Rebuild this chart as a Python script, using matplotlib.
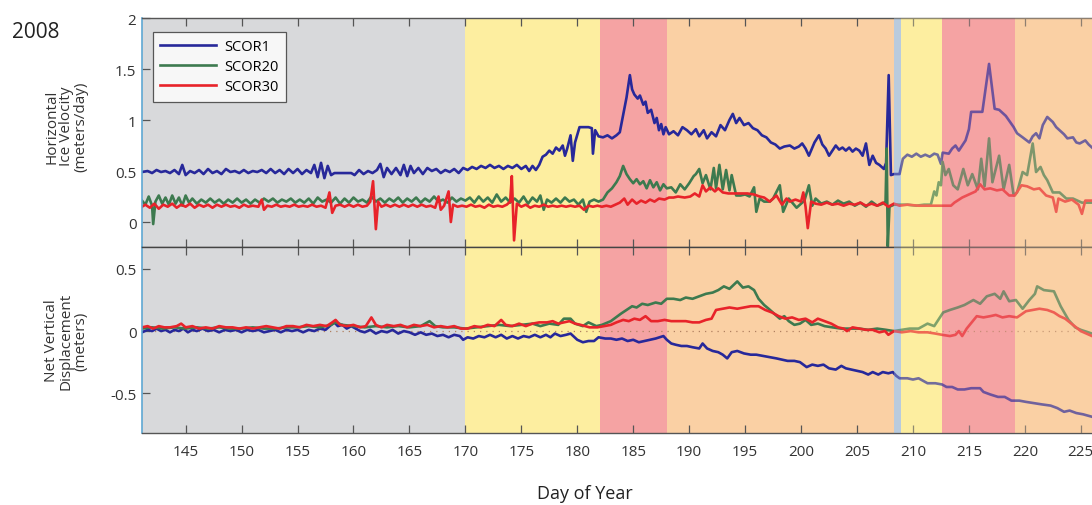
import matplotlib
matplotlib.use("Agg")
import matplotlib.pyplot as plt

plt.rcParams["font.family"] = ["Open Sans", "DejaVu Sans"]
plt.rcParams["axes.unicode_minus"] = False

# melt-season phases shading both panels (day of year edges)
band_edges = [141.1, 170.0, 182.0, 188.0, 208.3, 208.9, 212.6, 219.1, 226.0]
band_colors = ["#d8d9db", "#fdeea0", "#f5a3a3", "#fad0a4", "#b9cbdd",
               "#fdeea0", "#f5a3a3", "#fad0a4"]
overlay_from = 4  # later phases are washed over the traces

stations = ["SCOR1", "SCOR20", "SCOR30"]
station_colors = ["#27289a", "#3d7a4f", "#e8232a"]

# horizontal ice velocity (m/day)
scor1_vel_day = [
    141.1, 141.6, 142.0, 142.4, 142.8, 143.2, 143.6, 144.0, 144.4, 144.7, 145.0, 145.4, 145.8,
    146.2, 146.6, 147.0, 147.4, 147.8, 148.2, 148.6, 149.0, 149.4, 149.8, 150.2, 150.6, 151.0,
    151.4, 151.8, 152.2, 152.6, 153.0, 153.4, 153.8, 154.2, 154.6, 155.0, 155.4, 155.8, 156.2,
    156.5, 156.8, 157.1, 157.4, 157.7, 158.0, 158.3, 159.0, 159.8, 160.1, 160.5, 160.9, 161.3,
    161.7, 162.1, 162.4, 162.7, 163.0, 163.4, 163.8, 164.2, 164.5, 164.8, 165.1, 165.4, 165.8,
    166.2, 166.6, 167.0, 167.4, 167.8, 168.2, 168.6, 169.0, 169.4, 169.8, 170.2, 170.6, 171.0,
    171.4, 171.8, 172.2, 172.6, 173.0, 173.4, 173.8, 174.2, 174.6, 175.0, 175.4, 175.7, 176.0,
    176.3, 176.6, 176.9, 177.2, 177.5, 177.8, 178.1, 178.4, 178.7, 178.9, 179.1, 179.4, 179.6,
    179.8, 180.2, 180.6, 181.0, 181.3, 181.4, 181.6, 181.9, 182.3, 182.7, 183.1, 183.5, 183.8,
    184.1, 184.4, 184.7, 184.9, 185.1, 185.4, 185.6, 185.9, 186.1, 186.3, 186.6, 186.9, 187.1,
    187.3, 187.5, 187.7, 187.9, 188.2, 188.6, 189.0, 189.4, 189.8, 190.2, 190.6, 190.9, 191.3,
    191.6, 192.0, 192.4, 192.8, 193.2, 193.6, 193.9, 194.2, 194.5, 194.9, 195.3, 195.7, 196.1,
    196.5, 196.9, 197.3, 197.7, 198.1, 198.5, 199.0, 199.4, 199.8, 200.1, 200.4, 200.7, 201.2,
    201.6, 201.9, 202.2, 202.5, 203.1, 203.4, 203.7, 204.0, 204.3, 204.6, 204.9, 205.2, 205.5,
    205.8, 206.1, 206.4, 206.7, 207.0, 207.4, 207.6, 207.83, 208.03, 208.3, 208.8, 209.1, 209.5,
    209.9, 210.3, 210.7, 211.1, 211.5, 211.9, 212.2, 212.5, 212.65, 213.2, 213.5, 213.8, 214.1,
    214.4, 214.7, 215.0, 215.2, 216.2, 216.8, 217.3, 217.7, 218.3, 219.0, 219.3, 219.8, 220.4,
    220.7, 221.0, 221.3, 221.6, 222.0, 222.5, 222.8, 223.1, 223.5, 223.8, 224.3, 224.6, 224.9,
    225.4, 225.7, 226.0,
]
scor1_vel = [
    0.49, 0.50, 0.48, 0.51, 0.49, 0.50, 0.48, 0.51, 0.47, 0.56, 0.46, 0.50, 0.48,
    0.51, 0.47, 0.52, 0.48, 0.50, 0.47, 0.52, 0.49, 0.50, 0.48, 0.51, 0.48, 0.50,
    0.49, 0.51, 0.48, 0.52, 0.48, 0.51, 0.47, 0.52, 0.48, 0.52, 0.47, 0.51, 0.48,
    0.56, 0.44, 0.58, 0.43, 0.55, 0.46, 0.48, 0.48, 0.48, 0.46, 0.51, 0.47, 0.50,
    0.48, 0.51, 0.57, 0.44, 0.53, 0.47, 0.53, 0.46, 0.56, 0.45, 0.55, 0.48, 0.53,
    0.47, 0.53, 0.50, 0.52, 0.48, 0.51, 0.49, 0.52, 0.48, 0.53, 0.51, 0.54, 0.52,
    0.55, 0.53, 0.56, 0.53, 0.55, 0.52, 0.55, 0.53, 0.56, 0.52, 0.55, 0.50, 0.55,
    0.51, 0.56, 0.64, 0.66, 0.70, 0.67, 0.73, 0.70, 0.75, 0.65, 0.72, 0.85, 0.60,
    0.78, 0.93, 0.93, 0.93, 0.92, 0.67, 0.90, 0.84, 0.83, 0.85, 0.82, 0.85, 0.88,
    1.05, 1.22, 1.44, 1.30, 1.25, 1.21, 1.24, 1.15, 1.18, 1.07, 1.10, 0.97, 1.02,
    0.90, 0.96, 0.86, 0.93, 0.86, 0.89, 0.85, 0.93, 0.90, 0.86, 0.91, 0.84, 0.90,
    0.82, 0.88, 0.84, 0.95, 0.90, 1.00, 1.06, 0.97, 1.02, 0.95, 0.97, 0.92, 0.90,
    0.85, 0.83, 0.78, 0.76, 0.72, 0.74, 0.75, 0.72, 0.74, 0.77, 0.72, 0.65, 0.78,
    0.85, 0.76, 0.72, 0.65, 0.75, 0.71, 0.73, 0.70, 0.73, 0.69, 0.72, 0.70, 0.65,
    0.77, 0.56, 0.65, 0.58, 0.56, 0.52, 0.58, 1.44, 0.46, 0.47, 0.47, 0.62, 0.66,
    0.64, 0.67, 0.64, 0.66, 0.64, 0.67, 0.66, 0.57, 0.68, 0.67, 0.72, 0.75, 0.70,
    0.75, 0.80, 0.91, 1.08, 1.08, 1.55, 1.11, 1.10, 1.04, 0.93, 0.87, 0.83, 0.78,
    0.84, 0.87, 0.82, 0.95, 1.03, 0.98, 0.93, 0.90, 0.86, 0.82, 0.83, 0.78, 0.77,
    0.80, 0.76, 0.73,
]

scor20_vel_day = [
    141.1, 141.4, 141.7, 142.0, 142.1, 142.3, 142.6, 142.9, 143.2, 143.5, 143.8, 144.1, 144.4,
    144.7, 145.0, 145.3, 145.6, 146.0, 146.4, 146.8, 147.2, 147.6, 148.0, 148.4, 148.8, 149.2,
    149.6, 150.0, 150.4, 150.8, 151.2, 151.6, 152.0, 152.4, 152.8, 153.2, 153.6, 154.0, 154.4,
    154.8, 155.2, 155.6, 156.0, 156.4, 156.8, 157.2, 157.6, 158.0, 158.4, 158.8, 159.2, 159.6,
    160.0, 160.4, 160.8, 161.2, 161.6, 162.0, 162.4, 162.8, 163.2, 163.6, 164.0, 164.4, 164.8,
    165.2, 165.6, 166.0, 166.4, 166.8, 167.2, 167.6, 168.0, 168.4, 168.8, 169.2, 169.6, 170.0,
    170.4, 170.8, 171.2, 171.6, 172.0, 172.4, 172.8, 173.2, 173.6, 174.0, 174.4, 174.8, 175.2,
    175.6, 176.0, 176.4, 176.7, 177.0, 177.3, 177.7, 178.1, 178.5, 178.9, 179.3, 179.7, 180.1,
    180.5, 180.8, 181.1, 181.5, 181.9, 182.3, 182.7, 183.1, 183.5, 183.8, 184.1, 184.4, 184.7,
    185.0, 185.3, 185.6, 185.9, 186.2, 186.5, 186.8, 187.1, 187.4, 187.7, 188.0, 188.4, 188.8,
    189.2, 189.6, 190.0, 190.4, 190.6, 190.9, 191.2, 191.5, 191.9, 192.2, 192.4, 192.7, 193.0,
    193.3, 193.6, 193.8, 194.2, 194.6, 195.0, 195.4, 195.8, 196.0, 196.3, 196.7, 197.2, 197.5,
    198.1, 198.4, 198.9, 199.6, 200.3, 200.7, 201.0, 201.3, 201.8, 202.3, 202.8, 203.3, 203.8,
    204.3, 204.8, 205.3, 205.8, 206.3, 206.8, 207.3, 207.55, 207.65, 207.75, 207.9, 208.3, 208.8,
    209.5, 210.3, 211.0, 211.6, 211.9, 212.1, 212.3, 212.5, 212.65, 212.9, 213.2, 213.6, 214.0,
    214.5, 214.9, 215.3, 215.8, 216.1, 216.4, 216.8, 217.1, 217.7, 218.1, 218.6, 219.0, 219.3,
    219.8, 220.2, 220.7, 221.0, 221.4, 221.7, 222.0, 222.5, 223.1, 223.7, 224.3, 225.1, 226.0,
]
scor20_vel = [
    0.21, 0.17, 0.25, 0.16, -0.02, 0.20, 0.26, 0.18, 0.24, 0.17, 0.26, 0.18, 0.24,
    0.16, 0.26, 0.19, 0.23, 0.18, 0.22, 0.19, 0.23, 0.19, 0.22, 0.18, 0.22, 0.19,
    0.23, 0.19, 0.22, 0.18, 0.22, 0.19, 0.23, 0.20, 0.23, 0.19, 0.22, 0.20, 0.23,
    0.19, 0.22, 0.19, 0.23, 0.18, 0.24, 0.20, 0.22, 0.19, 0.24, 0.18, 0.23, 0.19,
    0.24, 0.20, 0.22, 0.19, 0.25, 0.20, 0.23, 0.19, 0.23, 0.20, 0.24, 0.19, 0.23,
    0.20, 0.24, 0.19, 0.23, 0.20, 0.25, 0.20, 0.22, 0.19, 0.24, 0.20, 0.23, 0.21,
    0.24, 0.19, 0.25, 0.20, 0.24, 0.19, 0.27, 0.20, 0.24, 0.19, 0.23, 0.19, 0.25,
    0.18, 0.24, 0.20, 0.26, 0.12, 0.22, 0.19, 0.23, 0.19, 0.24, 0.20, 0.22, 0.17,
    0.22, 0.10, 0.20, 0.22, 0.20, 0.22, 0.29, 0.33, 0.39, 0.45, 0.55, 0.47, 0.42,
    0.38, 0.42, 0.37, 0.40, 0.33, 0.41, 0.34, 0.39, 0.31, 0.37, 0.33, 0.34, 0.29,
    0.37, 0.32, 0.38, 0.45, 0.47, 0.52, 0.38, 0.46, 0.32, 0.53, 0.33, 0.56, 0.32,
    0.51, 0.31, 0.46, 0.26, 0.26, 0.27, 0.25, 0.34, 0.10, 0.23, 0.20, 0.20, 0.23,
    0.36, 0.10, 0.23, 0.14, 0.21, 0.36, 0.16, 0.23, 0.18, 0.20, 0.17, 0.21, 0.18,
    0.20, 0.16, 0.19, 0.15, 0.20, 0.16, 0.18, 0.20, 0.72, -0.24, 0.15, 0.17, 0.17,
    0.17, 0.16, 0.17, 0.17, 0.30, 0.26, 0.39, 0.36, 0.59, 0.46, 0.52, 0.36, 0.32,
    0.52, 0.36, 0.47, 0.32, 0.62, 0.35, 0.82, 0.39, 0.65, 0.32, 0.56, 0.26, 0.29,
    0.49, 0.46, 0.77, 0.49, 0.54, 0.46, 0.41, 0.29, 0.29, 0.23, 0.23, 0.19, 0.19,
]

scor30_vel_day = [
    141.1, 141.4, 141.8, 142.2, 142.6, 143.0, 143.4, 143.8, 144.2, 144.6, 145.0, 145.4, 145.8,
    146.2, 146.6, 147.0, 147.4, 147.8, 148.2, 148.6, 149.0, 149.4, 149.8, 150.2, 150.6, 151.0,
    151.5, 151.8, 152.0, 152.3, 152.7, 153.1, 153.5, 153.9, 154.3, 154.7, 155.1, 155.5, 155.9,
    156.3, 156.7, 157.1, 157.5, 157.85, 158.1, 158.4, 158.8, 159.2, 159.6, 160.0, 160.4, 160.8,
    161.2, 161.5, 161.75, 162.0, 162.2, 162.5, 162.9, 163.3, 163.7, 164.1, 164.5, 164.9, 165.3,
    165.7, 166.1, 166.5, 166.9, 167.3, 167.6, 167.8, 168.1, 168.5, 168.7, 168.9, 169.3, 169.7,
    170.1, 170.5, 170.9, 171.3, 171.7, 172.1, 172.5, 172.9, 173.3, 173.7, 174.0, 174.15, 174.35,
    174.6, 175.0, 175.4, 175.8, 176.2, 176.6, 177.0, 177.4, 177.8, 178.2, 178.6, 179.0, 179.4,
    179.8, 180.2, 180.6, 181.0, 181.4, 181.8, 182.2, 182.6, 183.0, 183.4, 183.8, 184.2, 184.5,
    184.9, 185.3, 185.7, 186.1, 186.5, 186.9, 187.3, 187.8, 188.2, 188.6, 189.0, 189.6, 190.1,
    190.5, 190.9, 191.2, 191.5, 191.9, 192.3, 192.6, 193.0, 193.5, 194.0, 194.6, 195.2, 195.8,
    196.3, 196.7, 197.2, 197.8, 198.3, 198.7, 199.0, 199.5, 200.0, 200.2, 200.4, 200.6, 200.9,
    201.3, 201.8, 202.3, 202.8, 203.3, 203.8, 204.3, 204.8, 205.3, 205.8, 206.3, 206.8, 207.3,
    207.8, 208.3, 208.8, 209.5, 210.5, 211.5, 212.5, 213.4, 213.7, 214.4, 215.0, 215.6, 216.0,
    216.4, 216.9, 217.5, 218.0, 218.6, 219.1, 219.7, 220.2, 220.8, 221.3, 221.9, 222.5, 222.8,
    223.0, 223.6, 224.2, 224.8, 225.1, 225.4, 226.0,
]
scor30_vel = [
    0.15, 0.17, 0.14, 0.18, 0.13, 0.17, 0.15, 0.18, 0.14, 0.17, 0.15, 0.18, 0.14,
    0.17, 0.15, 0.17, 0.14, 0.17, 0.15, 0.17, 0.15, 0.16, 0.14, 0.17, 0.15, 0.16,
    0.15, 0.22, 0.12, 0.16, 0.15, 0.17, 0.15, 0.16, 0.15, 0.17, 0.15, 0.16, 0.15,
    0.17, 0.15, 0.16, 0.14, 0.29, 0.09, 0.16, 0.17, 0.15, 0.17, 0.15, 0.17, 0.15,
    0.16, 0.20, 0.40, -0.07, 0.20, 0.15, 0.17, 0.15, 0.17, 0.15, 0.17, 0.15, 0.17,
    0.15, 0.17, 0.15, 0.16, 0.14, 0.25, 0.12, 0.16, 0.30, 0.00, 0.17, 0.15, 0.16,
    0.15, 0.17, 0.15, 0.16, 0.14, 0.17, 0.15, 0.16, 0.15, 0.17, 0.20, 0.45, -0.18,
    0.18, 0.15, 0.17, 0.14, 0.16, 0.15, 0.17, 0.15, 0.16, 0.15, 0.16, 0.15, 0.16,
    0.15, 0.16, 0.12, 0.16, 0.15, 0.16, 0.15, 0.16, 0.15, 0.17, 0.19, 0.23, 0.17,
    0.22, 0.18, 0.21, 0.19, 0.22, 0.20, 0.23, 0.22, 0.24, 0.24, 0.25, 0.24, 0.25,
    0.28, 0.25, 0.36, 0.30, 0.34, 0.30, 0.33, 0.29, 0.28, 0.28, 0.28, 0.28, 0.27,
    0.25, 0.24, 0.20, 0.26, 0.17, 0.23, 0.20, 0.22, 0.20, 0.29, 0.15, -0.06, 0.20,
    0.18, 0.17, 0.19, 0.17, 0.18, 0.16, 0.18, 0.17, 0.19, 0.16, 0.18, 0.16, 0.19,
    0.15, 0.18, 0.16, 0.17, 0.16, 0.16, 0.16, 0.16, 0.19, 0.24, 0.27, 0.30, 0.37,
    0.32, 0.33, 0.31, 0.32, 0.26, 0.26, 0.36, 0.35, 0.32, 0.33, 0.26, 0.24, 0.10,
    0.23, 0.20, 0.22, 0.17, 0.08, 0.21, 0.21,
]

# net vertical displacement (m)
scor1_disp_day = [
    141.1, 141.6, 142.0, 142.4, 142.8, 143.2, 143.6, 144.0, 144.4, 144.8, 145.2, 145.6, 146.0,
    146.5, 147.0, 147.5, 148.0, 148.5, 149.0, 149.5, 150.0, 150.5, 151.0, 151.5, 152.0, 152.5,
    153.0, 153.5, 154.0, 154.5, 155.0, 155.5, 156.0, 156.5, 157.0, 157.5, 158.0, 158.3, 158.6,
    159.0, 159.4, 159.8, 160.2, 160.6, 161.0, 161.5, 162.0, 162.5, 163.0, 163.5, 164.0, 164.5,
    165.0, 165.5, 166.0, 166.5, 167.0, 167.5, 168.0, 168.5, 169.0, 169.5, 169.8, 170.2, 170.7,
    171.2, 171.7, 172.2, 172.7, 173.2, 173.7, 174.2, 174.7, 175.2, 175.7, 176.2, 176.7, 177.2,
    177.6, 178.0, 178.5, 179.0, 179.4, 180.0, 180.5, 181.0, 181.5, 181.9, 182.5, 183.0, 183.5,
    184.0, 184.5, 185.0, 185.5, 186.0, 186.5, 187.0, 187.7, 188.0, 188.4, 188.8, 189.3, 189.8,
    190.3, 190.9, 191.2, 191.6, 192.1, 192.6, 193.0, 193.4, 193.8, 194.3, 194.9, 195.5, 196.0,
    196.6, 197.2, 197.8, 198.3, 198.8, 199.4, 199.9, 200.5, 201.0, 201.5, 202.0, 202.5, 203.1,
    203.6, 204.0, 204.5, 205.0, 205.5, 206.0, 206.4, 206.9, 207.3, 207.8, 208.2, 208.5, 208.8,
    209.5, 210.0, 210.5, 211.3, 212.0, 212.6, 213.0, 213.5, 214.0, 214.6, 215.2, 216.0, 216.3,
    216.9, 217.6, 218.2, 218.8, 219.5, 220.1, 220.8, 221.5, 222.3, 222.9, 223.5, 224.0, 224.6,
    225.2, 226.0,
]
scor1_disp = [
    -0.01, 0.01, 0.00, 0.02, 0.00, 0.01, -0.01, 0.01, 0.00, 0.02, -0.01, 0.01, 0.00,
    0.02, 0.00, 0.01, -0.01, 0.01, 0.00, 0.01, -0.01, 0.01, 0.00, 0.01, -0.01, 0.00,
    0.01, -0.01, 0.01, 0.00, 0.01, -0.01, 0.01, 0.00, 0.02, 0.01, 0.05, 0.07, 0.04,
    0.05, 0.02, 0.04, 0.02, 0.00, -0.01, 0.01, -0.02, 0.00, -0.01, 0.01, -0.02, 0.00,
    -0.01, -0.03, -0.01, -0.03, -0.02, -0.04, -0.03, -0.05, -0.03, -0.04, -0.07, -0.05, -0.06,
    -0.04, -0.05, -0.03, -0.05, -0.03, -0.06, -0.04, -0.06, -0.04, -0.05, -0.03, -0.05, -0.03,
    -0.05, -0.02, -0.04, -0.03, -0.02, -0.07, -0.09, -0.08, -0.08, -0.05, -0.06, -0.06, -0.07,
    -0.06, -0.08, -0.07, -0.09, -0.08, -0.07, -0.06, -0.04, -0.07, -0.10, -0.11, -0.12, -0.12,
    -0.13, -0.14, -0.10, -0.14, -0.16, -0.17, -0.19, -0.22, -0.17, -0.16, -0.18, -0.19, -0.19,
    -0.20, -0.21, -0.22, -0.23, -0.24, -0.24, -0.25, -0.29, -0.27, -0.28, -0.27, -0.30, -0.31,
    -0.28, -0.30, -0.31, -0.32, -0.33, -0.35, -0.33, -0.35, -0.33, -0.34, -0.33, -0.36, -0.38,
    -0.38, -0.39, -0.38, -0.42, -0.42, -0.43, -0.45, -0.45, -0.47, -0.47, -0.46, -0.46, -0.49,
    -0.51, -0.53, -0.53, -0.56, -0.56, -0.57, -0.58, -0.59, -0.60, -0.62, -0.65, -0.64, -0.66,
    -0.67, -0.69,
]

scor20_disp_day = [
    141.1, 142.0, 143.0, 144.0, 145.0, 146.0, 147.0, 148.0, 149.0, 150.0, 151.0, 152.0, 153.0,
    154.0, 155.0, 156.0, 157.0, 158.0, 158.4, 159.0, 160.0, 161.0, 162.0, 163.0, 164.0, 165.0,
    166.0, 166.8, 167.3, 168.0, 169.0, 170.0, 171.0, 172.0, 173.0, 174.0, 175.0, 176.0, 176.7,
    177.5, 178.3, 178.8, 179.4, 179.8, 180.5, 181.0, 181.7, 182.2, 183.0, 183.9, 184.4, 184.9,
    185.3, 185.8, 186.3, 187.0, 187.5, 188.0, 188.6, 189.2, 189.7, 190.3, 190.9, 191.5, 192.1,
    192.6, 193.1, 193.6, 194.3, 194.8, 195.3, 195.8, 196.2, 196.7, 197.1, 197.6, 198.1, 198.5,
    198.9, 199.4, 199.9, 200.4, 200.9, 201.5, 202.1, 202.8, 203.6, 204.4, 205.2, 206.0, 206.8,
    207.6, 208.3, 209.0, 209.7, 210.5, 211.3, 211.9, 212.7, 213.3, 214.0, 214.6, 215.4, 216.0,
    216.6, 217.3, 217.8, 218.1, 218.6, 219.2, 219.8, 220.4, 220.9, 221.1, 221.7, 222.6, 223.2,
    223.9, 224.5, 225.0, 226.0,
]
scor20_disp = [
    0.02, 0.03, 0.02, 0.03, 0.02, 0.03, 0.02, 0.03, 0.02, 0.02, 0.03, 0.02, 0.02,
    0.03, 0.03, 0.04, 0.03, 0.05, 0.07, 0.05, 0.04, 0.03, 0.04, 0.03, 0.04, 0.03,
    0.04, 0.08, 0.04, 0.03, 0.03, 0.02, 0.03, 0.04, 0.05, 0.04, 0.05, 0.06, 0.04,
    0.06, 0.05, 0.10, 0.10, 0.06, 0.04, 0.07, 0.04, 0.05, 0.08, 0.14, 0.17, 0.20,
    0.19, 0.22, 0.21, 0.23, 0.22, 0.26, 0.26, 0.25, 0.27, 0.26, 0.28, 0.30, 0.31,
    0.33, 0.36, 0.34, 0.40, 0.35, 0.36, 0.33, 0.26, 0.21, 0.18, 0.14, 0.10, 0.12,
    0.08, 0.05, 0.06, 0.09, 0.05, 0.06, 0.04, 0.03, 0.02, 0.02, 0.02, 0.01, 0.02,
    0.01, 0.00, 0.01, 0.02, 0.02, 0.06, 0.04, 0.15, 0.17, 0.19, 0.21, 0.25, 0.22,
    0.28, 0.30, 0.26, 0.32, 0.24, 0.25, 0.18, 0.25, 0.30, 0.36, 0.33, 0.32, 0.20,
    0.09, 0.03, 0.01, -0.02,
]

scor30_disp_day = [
    141.1, 141.6, 142.1, 142.6, 143.1, 143.6, 144.2, 144.6, 145.0, 145.6, 146.2, 146.8, 147.4,
    148.0, 148.6, 149.2, 149.8, 150.4, 151.0, 151.6, 152.2, 152.8, 153.4, 154.0, 154.6, 155.2,
    155.8, 156.4, 157.0, 157.6, 158.1, 158.4, 158.8, 159.4, 160.0, 160.6, 161.1, 161.6, 162.0,
    162.5, 163.0, 163.6, 164.2, 164.8, 165.4, 166.0, 166.6, 167.2, 167.8, 168.4, 169.0, 169.6,
    170.2, 170.8, 171.4, 172.0, 172.6, 173.2, 173.6, 174.2, 174.8, 175.4, 176.0, 176.6, 177.3,
    177.8, 178.3, 178.8, 179.3, 179.8, 180.3, 181.1, 181.8, 182.4, 183.0, 183.5, 184.1, 184.6,
    185.1, 185.6, 186.1, 186.6, 187.2, 187.8, 188.4, 189.0, 189.7, 190.3, 190.9, 191.5, 192.0,
    192.4, 193.0, 193.6, 194.3, 194.9, 195.5, 196.2, 196.8, 197.4, 198.0, 198.6, 199.2, 199.8,
    200.4, 201.0, 201.5, 202.1, 202.7, 203.3, 203.8, 204.1, 204.6, 205.2, 205.8, 206.4, 207.0,
    207.5, 207.8, 208.3, 209.0, 209.8, 210.5, 211.3, 212.0, 212.6, 213.3, 213.8, 214.1, 214.4,
    214.8, 215.7, 216.3, 216.9, 217.4, 218.0, 218.6, 219.3, 220.1, 220.7, 221.3, 222.0, 222.6,
    223.1, 223.6, 224.3, 225.0, 226.0,
]
scor30_disp = [
    0.03, 0.04, 0.02, 0.04, 0.03, 0.03, 0.04, 0.06, 0.03, 0.04, 0.02, 0.03, 0.02,
    0.04, 0.03, 0.03, 0.02, 0.03, 0.02, 0.03, 0.04, 0.03, 0.02, 0.04, 0.04, 0.03,
    0.05, 0.04, 0.05, 0.04, 0.07, 0.09, 0.05, 0.04, 0.05, 0.03, 0.04, 0.11, 0.05,
    0.03, 0.05, 0.04, 0.05, 0.03, 0.05, 0.04, 0.05, 0.03, 0.04, 0.03, 0.04, 0.02,
    0.02, 0.04, 0.03, 0.05, 0.04, 0.09, 0.05, 0.04, 0.06, 0.04, 0.06, 0.07, 0.07,
    0.08, 0.06, 0.07, 0.08, 0.06, 0.05, 0.03, 0.03, 0.04, 0.05, 0.07, 0.09, 0.08,
    0.10, 0.09, 0.12, 0.08, 0.08, 0.09, 0.08, 0.08, 0.08, 0.07, 0.07, 0.09, 0.10,
    0.17, 0.18, 0.19, 0.18, 0.19, 0.20, 0.20, 0.17, 0.15, 0.12, 0.10, 0.11, 0.09,
    0.10, 0.07, 0.10, 0.08, 0.06, 0.03, 0.02, 0.00, 0.03, 0.02, 0.01, 0.01, -0.01,
    0.00, -0.03, 0.00, -0.01, 0.00, -0.01, -0.01, -0.02, -0.03, -0.04, -0.03, 0.00, -0.04,
    0.02, 0.12, 0.11, 0.12, 0.13, 0.11, 0.12, 0.11, 0.16, 0.17, 0.18, 0.17, 0.15,
    0.12, 0.10, 0.05, 0.00, -0.04,
]

vel_series = [(scor1_vel_day, scor1_vel), (scor20_vel_day, scor20_vel), (scor30_vel_day, scor30_vel)]
disp_series = [(scor1_disp_day, scor1_disp), (scor20_disp_day, scor20_disp), (scor30_disp_day, scor30_disp)]

x_ticks = list(range(145, 226, 5))
vel_ticks = [0, 0.5, 1, 1.5, 2]
vel_tick_labels = ["0", "0.5", "1", "1.5", "2"]
disp_ticks = [-0.5, 0, 0.5]
disp_tick_labels = ["-0.5", "0", "0.5"]

FIG_W, FIG_H = 1092, 506


def shade_phases(ax):
    for i, c in enumerate(band_colors):
        lo, hi = band_edges[i], band_edges[i + 1]
        ax.axvspan(lo, hi, facecolor=c, edgecolor="none", zorder=0)
        if i >= overlay_from:
            # wash over the traces so they pick up the phase tint
            ax.axvspan(lo, hi, facecolor=c, edgecolor="none", alpha=0.35, zorder=3)


def style_axes(ax):
    ax.set_xlim(band_edges[0], band_edges[-1])
    ax.set_xticks(x_ticks)
    ax.tick_params(axis="x", direction="in", top=True, bottom=True, length=6,
                   width=0.9, color="#555555", labelsize=11, labelcolor="#333333", pad=8)
    ax.tick_params(axis="y", direction="in", length=6, width=0.9, color="#555555",
                   labelsize=11, labelcolor="#333333", pad=4)
    for side in ("top", "bottom"):
        ax.spines[side].set_color("#555555")
        ax.spines[side].set_linewidth(1.0)
    ax.spines["left"].set_color("#5fa8d3")
    ax.spines["left"].set_linewidth(1.2)
    ax.spines["right"].set_visible(False)


fig = plt.figure(figsize=(FIG_W / 100, FIG_H / 100), dpi=100)
left = 142 / FIG_W
width = 1 - left
top_px, mid_px, bot_px = 19, 247.5, 434.3
ax_vel = fig.add_axes([left, 1 - mid_px / FIG_H, width, (mid_px - top_px) / FIG_H])
ax_disp = fig.add_axes([left, 1 - bot_px / FIG_H, width, (bot_px - mid_px) / FIG_H])

for ax in (ax_vel, ax_disp):
    shade_phases(ax)
    style_axes(ax)

lines = []
for (days, vals), name, col in zip(vel_series, stations, station_colors):
    ln, = ax_vel.plot(days, vals, color=col, lw=1.9, zorder=2, label=name)
    lines.append(ln)
ax_vel.set_ylim(-0.24, 2.0)
ax_vel.set_yticks(vel_ticks)
ax_vel.set_yticklabels(vel_tick_labels)
ax_vel.tick_params(axis="x", labelbottom=False)
ax_vel.set_ylabel("Horizontal\nIce Velocity\n(meters/day)", fontsize=11, color="#333333",
                  linespacing=0.95)

for (days, vals), col in zip(disp_series, station_colors):
    ax_disp.plot(days, vals, color=col, lw=1.9, zorder=2)
ax_disp.axhline(0, color="#b08060", lw=0.9, ls=(0, (1, 4)), zorder=1)
ax_disp.set_ylim(-0.823, 0.681)
ax_disp.set_yticks(disp_ticks)
ax_disp.set_yticklabels(disp_tick_labels)
ax_disp.spines["top"].set_color("#444444")
ax_disp.set_ylabel("Net Vertical\nDisplacement\n(meters)", fontsize=11, color="#333333",
                   linespacing=0.95)

# both y labels share one column left of the tick labels
label_x = -(142 - 88) / (FIG_W * width)
ax_vel.yaxis.set_label_coords(label_x, 0.53)
ax_disp.yaxis.set_label_coords(label_x, 0.5)

fig.text(585 / FIG_W, 1 - 494 / FIG_H, "Day of Year", fontsize=13, color="#222222",
         ha="center", va="center")

leg = ax_vel.legend(handles=lines, loc="upper left", bbox_to_anchor=(0.0116, 0.939),
                    fontsize=10.5, handlelength=3.8, frameon=True, fancybox=False,
                    borderaxespad=0, borderpad=0.5, labelspacing=0.35, handletextpad=0.6)
leg.get_frame().set_edgecolor("#333333")
leg.get_frame().set_linewidth(0.9)
leg.get_frame().set_facecolor("white")
leg.set_zorder(5)

fig.text(12 / FIG_W, 1 - 33 / FIG_H, "2008", fontsize=15, color="#222222",
         ha="left", va="center")

fig.savefig("out.png", dpi=100)
